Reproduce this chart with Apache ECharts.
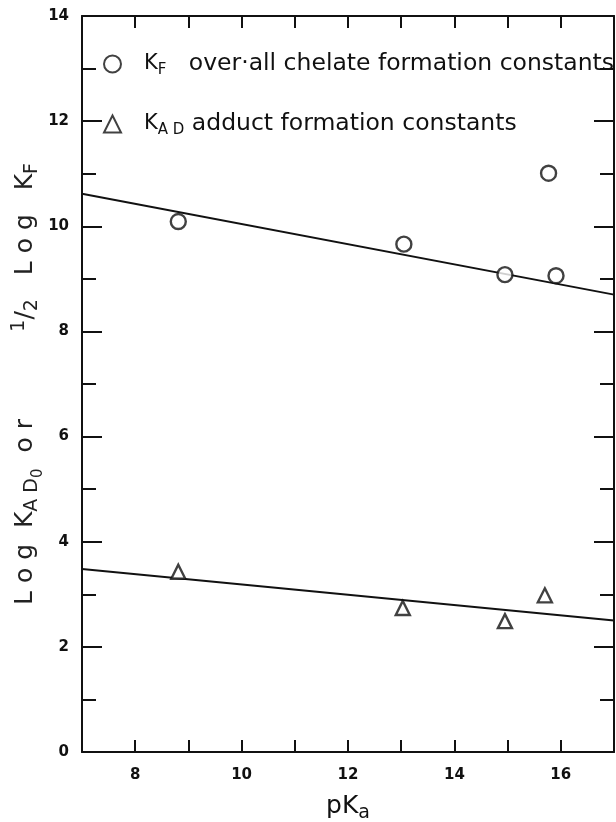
<!DOCTYPE html>
<html>
<head>
<meta charset="utf-8">
<script src="https://cdn.jsdelivr.net/npm/echarts@6/dist/echarts.min.js"></script>
<style>
  html, body { margin: 0; padding: 0; background: #fff; }
  #main { width: 616px; height: 822px; }
</style>
</head>
<body>
<div id="main"></div>
<script>
const pkaKF = [8.81, 13.05, 14.95, 15.77, 15.91];
const logKF = [10.09, 9.66, 9.08, 11.01, 9.06];
const pkaKAD = [8.81, 13.03, 14.95, 15.70];
const logKAD = [3.43, 2.74, 2.49, 2.98];
// fitted straight lines (end points at the frame)
const fitKF = [[7, 10.62], [17, 8.70]];
const fitKAD = [[7, 3.48], [17, 2.50]];

const font = 'DejaVu Sans';
const ink = '#111';
const chart = echarts.init(document.getElementById('main'));

const zip = (xs, ys) => xs.map((x, i) => [x, ys[i]]);

const frameAxis = {
    axisLine: { onZero: false, lineStyle: { color: ink, width: 2 } },
    splitLine: { show: false }
};

const option = {
    animation: false,
    backgroundColor: '#fff',
    grid: { left: 82, right: 2, top: 16, bottom: 70, containLabel: false, outerBoundsMode: 'none' },
    legend: {
        orient: 'vertical',
        left: 98,
        top: 47,
        itemGap: 34,
        itemWidth: 17,
        itemHeight: 17,
        data: ['KF', 'KAD'],
        textStyle: {
            color: ink,
            fontFamily: font,
            fontSize: 23.5,
            padding: [0, 0, 0, 18],
            rich: {
                k: { fontSize: 21, fontFamily: font, color: ink },
                s: { fontSize: 15, fontFamily: font, color: ink, padding: [13, 0, 0, 0] }
            }
        },
        formatter: function (name) {
            if (name === 'KF') return '{k|K}{s|F}   over·all chelate formation constants';
            return '{k|K}{s|A D} adduct formation constants';
        }
    },
    xAxis: [Object.assign({
        type: 'value', min: 7, max: 17, interval: 1,
        name: 'pK{a|a}',
        nameLocation: 'middle',
        nameGap: 38,
        nameTextStyle: {
            fontFamily: font, fontSize: 25, color: ink,
            rich: { a: { fontFamily: font, fontSize: 19, color: ink, padding: [14, 0, 0, 0] } }
        },
        axisTick: { inside: true, length: 12, lineStyle: { color: ink, width: 2 } },
        axisLabel: {
            margin: 16, color: ink, fontFamily: font, fontSize: 15, fontWeight: 'bold',
            formatter: v => (v % 2 === 0 ? String(v) : '')
        }
    }, frameAxis), Object.assign({
        type: 'value', min: 7, max: 17, interval: 1, position: 'top',
        axisTick: { inside: true, length: 12, lineStyle: { color: ink, width: 2 } },
        axisLabel: { show: false }
    }, frameAxis)],
    yAxis: [Object.assign({
        type: 'value', min: 0, max: 14, interval: 2,
        name: 'L o g  K{s|A D}{ss|0}  o r           {sup|1}/{s|2}   L o g   K{s|F}',
        nameLocation: 'middle',
        nameMoveOverlap: false,
        nameGap: 36,
        nameRotate: 90,
        nameTextStyle: {
            fontFamily: font, fontSize: 25, color: '#222',
            rich: {
                s: { fontFamily: font, fontSize: 19, color: '#222', padding: [14, 0, 0, 0] },
                ss: { fontFamily: font, fontSize: 15, color: '#222', padding: [26, 0, 0, 0] },
                sup: { fontFamily: font, fontSize: 19, color: '#222', padding: [0, 0, 12, 0] }
            }
        },
        axisTick: { inside: true, length: 20, lineStyle: { color: ink, width: 2 } },
        minorTick: { show: true, splitNumber: 2, length: 14, lineStyle: { color: ink, width: 2 } },
        axisLabel: { margin: 13, color: ink, fontFamily: font, fontSize: 15, fontWeight: 'bold' }
    }, frameAxis), Object.assign({
        type: 'value', min: 0, max: 14, interval: 2, position: 'right',
        axisTick: { inside: true, length: 20, lineStyle: { color: ink, width: 2 } },
        minorTick: { show: true, splitNumber: 2, length: 14, lineStyle: { color: ink, width: 2 } },
        axisLabel: { show: false }
    }, frameAxis)],
    series: [{
        name: 'KF',
        type: 'scatter',
        symbol: 'circle',
        symbolSize: 15,
        itemStyle: { color: '#fff', borderColor: ink, borderWidth: 2.4 },
        data: zip(pkaKF, logKF),
        z: 5
    }, {
        name: 'KAD',
        type: 'scatter',
        symbol: 'triangle',
        symbolSize: 14,
        itemStyle: { color: '#fff', borderColor: ink, borderWidth: 2.4 },
        data: zip(pkaKAD, logKAD),
        z: 5
    }, {
        name: 'fitKF',
        type: 'line',
        showSymbol: false,
        lineStyle: { color: ink, width: 2 },
        data: fitKF
    }, {
        name: 'fitKAD',
        type: 'line',
        showSymbol: false,
        lineStyle: { color: ink, width: 2 },
        data: fitKAD
    }]
};

chart.setOption(option);
</script>
</body>
</html>
